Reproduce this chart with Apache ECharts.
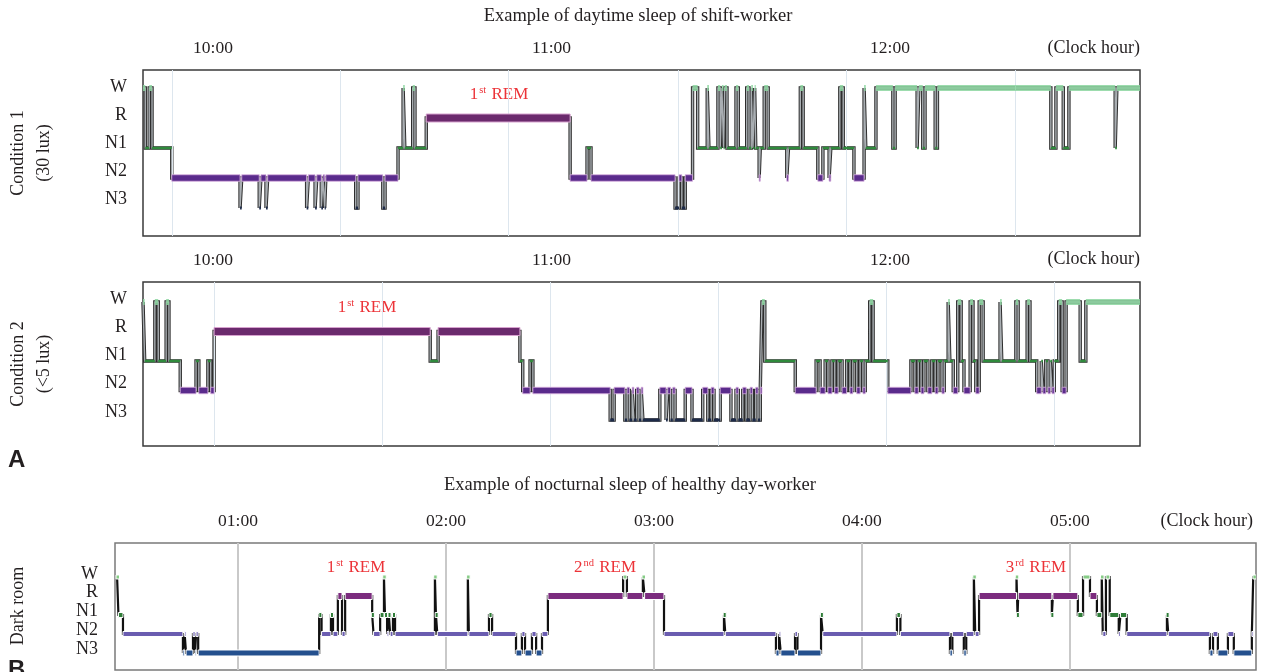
<!DOCTYPE html>
<html><head><meta charset="utf-8">
<script src="https://cdn.jsdelivr.net/npm/echarts@6/dist/echarts.min.js"></script>
<style>html,body{margin:0;padding:0;background:#fff}#c{width:1264px;height:672px}</style>
</head><body><div id="c"></div>
<script>
// ---------- DATA ----------
const STAGE_LABELS = ['N3', 'N2', 'N1', 'R', 'W'];
const CLOCK_TOP = [60, 120, 180];            // minutes after 09:00 -> 10:00, 11:00, 12:00
const CLOCK_BOTTOM = [60, 120, 180, 240, 300]; // minutes after 00:00 -> 01:00 ... 05:00

// [minute (after 09:00), stage] — stage holds until next entry
const cond1 = [
 [47.6,'W'],[48.0,'N1'],[48.7,'W'],[49.2,'N1'],[52.7,'N2'],[64.8,'N3'],[65.1,'N2'],[68.2,'N3'],[68.5,'N2'],
 [69.4,'N3'],[69.7,'N2'],[76.6,'N3'],[76.9,'N2'],[78.1,'N3'],[78.4,'N2'],[79.2,'N3'],[79.5,'N2'],[79.8,'N3'],
 [80.0,'N2'],[85.3,'N3'],[85.7,'N2'],[90.1,'N3'],[90.5,'N2'],[92.8,'N1'],[93.7,'W'],[94.0,'N1'],[95.4,'W'],
 [95.8,'N1'],[97.8,'R'],[123.3,'N2'],[126.3,'N1'],[127.0,'N2'],[141.9,'N3'],[142.6,'N2'],[143.1,'N3'],[143.7,'N2'],
 [145.0,'W'],[145.9,'N1'],[147.6,'W'],[147.9,'N1'],[149.5,'W'],[149.9,'N1'],[150.2,'W'],[150.5,'N1'],[150.7,'W'],
 [151.1,'N1'],[152.7,'W'],[153.1,'N1'],[154.6,'W'],[155.0,'N1'],[155.4,'W'],[155.7,'N1'],[156.0,'W'],[156.2,'N1'],
 [156.8,'N2'],[157.0,'N1'],[157.7,'W'],[158.4,'N1'],[161.7,'N2'],[162.0,'N1'],[164.1,'W'],[164.6,'N1'],[167.2,'N2'],
 [168.1,'N1'],[169.2,'N2'],[169.5,'N1'],[171.1,'W'],[171.7,'N1'],[173.6,'N2'],[175.4,'W'],[175.7,'N1'],[177.5,'W'],
 [180.5,'N1'],[180.9,'W'],[184.8,'N1'],[185.1,'W'],[185.8,'N1'],[186.2,'W'],[188.0,'N1'],[188.4,'W'],[208.5,'N1'],
 [209.4,'W'],[210.7,'N1'],[211.7,'W'],[219.9,'N1'],[220.2,'W']
];
const cond1End = 224.3;

const cond2 = [
 [47.6,'W'],[47.9,'N1'],[49.7,'W'],[50.3,'N1'],[51.7,'W'],[52.2,'N1'],[54.2,'N2'],[57.0,'N1'],[57.5,'N2'],
 [59.1,'N1'],[59.6,'N2'],[60.2,'R'],[98.5,'N1'],[99.9,'R'],[114.4,'N1'],[114.9,'N2'],[116.2,'N1'],[116.7,'N2'],
 [130.4,'N3'],[131.1,'N2'],[133.0,'N3'],[133.4,'N2'],[133.8,'N3'],[134.3,'N2'],[134.6,'N3'],[135.1,'N2'],[135.5,'N3'],
 [135.9,'N2'],[136.2,'N3'],[139.2,'N2'],[140.3,'N3'],[140.6,'N2'],[141.1,'N3'],[141.5,'N2'],[141.9,'N3'],[143.7,'N2'],
 [144.9,'N3'],[146.8,'N2'],[147.7,'N3'],[148.3,'N2'],[148.8,'N3'],[149.9,'N2'],[151.8,'N3'],[152.7,'N2'],[153.1,'N3'],
 [153.9,'N2'],[154.5,'N3'],[155.2,'N2'],[155.6,'N3'],[156.2,'N2'],[156.6,'N3'],[157.0,'N2'],[157.3,'W'],[157.8,'N1'],
 [163.2,'N2'],[166.9,'N1'],[167.6,'N2'],[168.5,'N1'],[169.0,'N2'],[169.7,'N1'],[170.2,'N2'],[170.8,'N1'],[171.5,'N2'],
 [172.3,'N1'],[172.9,'N2'],[173.4,'N1'],[174.1,'N2'],[174.7,'N1'],[175.2,'N2'],[175.6,'N1'],[176.4,'W'],[177.0,'N1'],
 [179.6,'N2'],[183.7,'N1'],[184.4,'N2'],[185.0,'N1'],[185.5,'N2'],[186.0,'N1'],[186.7,'N2'],[187.4,'N1'],[188.0,'N2'],
 [188.5,'N1'],[189.2,'N2'],[189.6,'N1'],[190.3,'W'],[190.6,'N1'],[191.2,'N2'],[192.0,'W'],[192.6,'N1'],[193.1,'N2'],
 [194.2,'W'],[194.7,'N1'],[195.2,'N2'],[195.8,'W'],[196.5,'N1'],[199.5,'W'],[199.8,'N1'],[202.3,'W'],[202.7,'N1'],
 [204.3,'W'],[204.8,'N1'],[206.0,'N2'],[206.8,'N1'],[207.1,'N2'],[207.6,'N1'],[208.0,'N2'],[208.4,'N1'],[208.7,'N2'],
 [209.1,'N1'],[209.9,'W'],[210.5,'N2'],[211.2,'W'],[213.7,'N1'],[214.7,'W']
];
const cond2End = 224.3;

// [minute (after 00:00), stage]
const dark = [
 [25.1,'W'],[25.5,'N1'],[26.8,'N2'],[44.1,'N3'],[44.6,'N2'],[45.0,'N3'],[47.0,'N2'],[47.6,'N3'],[47.9,'N2'],[48.5,'N3'],
 [83.4,'N1'],[84.1,'N2'],[86.8,'N1'],[87.4,'N2'],[88.8,'R'],[90.0,'N2'],[90.9,'R'],[98.7,'N1'],[99.1,'N2'],
 [101.0,'N1'],[102.1,'W'],[102.4,'N1'],[103.0,'N2'],[103.5,'N1'],[103.9,'N2'],[104.7,'N1'],[105.3,'N2'],
 [116.8,'W'],[117.1,'N1'],[117.5,'N2'],[126.3,'W'],[126.6,'N2'],[132.4,'N1'],[133.3,'N2'],[140.2,'N3'],[141.9,'N2'],
 [142.8,'N3'],[144.8,'N2'],[146.0,'N3'],[147.7,'N2'],[149.4,'R'],[171.1,'W'],[172.2,'R'],[176.8,'W'],[177.3,'R'],
 [182.9,'N2'],[200.2,'N1'],[200.6,'N2'],[215.2,'N3'],[216.1,'N2'],[216.6,'N3'],[220.7,'N2'],[221.4,'N3'],[228.2,'N1'],
 [228.7,'N2'],[250.1,'N1'],[251.1,'N2'],[265.4,'N3'],[266.1,'N2'],[269.4,'N3'],[270.1,'N2'],[272.3,'W'],[272.7,'N2'],
 [273.8,'R'],[284.6,'W'],[284.9,'N1'],[285.1,'R'],[294.8,'N1'],[295.1,'R'],[302.3,'N1'],[303.8,'W'],[305.8,'R'],
 [307.8,'N1'],[309.2,'W'],[309.5,'N2'],[310.4,'W'],[311.5,'N1'],[314.1,'N2'],[314.6,'N1'],[316.4,'N2'],[328.0,'N1'],
 [328.4,'N2'],[340.4,'N3'],[341.3,'N2'],[342.7,'N3'],[345.6,'N2'],[347.3,'N3'],[352.5,'N2'],[352.9,'W']
];
const darkEnd = 353.7;

// vertical reference lines (minutes)
const cond1Grid = [52.7, 82.5, 112.4, 142.4, 172.2, 202.2];
const cond2Grid = [60.2, 90.0, 119.7, 149.5, 179.3, 209.1];
const darkGrid = [60, 120, 180, 240, 300];

// ---------- BUILD ----------
const LV = { N3: 0, N2: 1, N1: 2, R: 3, W: 4 };
const SERIF = '"Liberation Serif","DejaVu Serif",serif';
const TXT = '#231f20';

function stepLine(seq, end) {
  const d = seq.map(p => [p[0], LV[p[1]]]);
  d.push([end, LV[seq[seq.length - 1][1]]]);
  return d;
}
function segments(seq, end) {
  return seq.map((p, i) => [p[0], i + 1 < seq.length ? seq[i + 1][0] : end, LV[p[1]]]);
}
const pad = n => (n < 10 ? '0' : '') + n;

const topStyle = {
  4: { h: 6, fill: 'rgba(140,214,160,0.85)', minW: 0 },
  3: { h: 8, fill: '#6b2a6d', stroke: '#d7a2cf', lw: 1, minW: 0 },
  2: { h: 2.5, fill: '#2f8a3c', minW: 0 },
  1: { h: 6.5, fill: '#5a2b8c', stroke: '#d9b0e0', lw: 0.8, minW: 0 },
  0: { h: 3, fill: '#1d2a48', minW: 0 }
};
const botStyle = {
  4: { h: 4, fill: '#86cc86', stroke: '#fff', lw: 1, minW: 3.5 },
  3: { h: 7, fill: '#7b2b7e', stroke: '#fff', lw: 1, minW: 0 },
  2: { h: 5, fill: '#2f7d38', stroke: '#fff', lw: 1, minW: 3 },
  1: { h: 5, fill: '#6a5cb0', stroke: '#fff', lw: 1, minW: 0 },
  0: { h: 6, fill: '#24508e', stroke: '#fff', lw: 1, minW: 0 }
};

function barSeries(k, seq, end, styles) {
  return {
    type: 'custom', xAxisIndex: k, yAxisIndex: 2 * k, data: segments(seq, end),
    encode: { x: [0, 1], y: 2 }, z: 5, silent: true, clip: true,
    renderItem(params, api) {
      const lv = api.value(2), st = styles[lv];
      const a = api.coord([api.value(0), lv]), b = api.coord([api.value(1), lv]);
      let x = a[0], w = b[0] - a[0];
      if (w < st.minW) { x -= (st.minW - w) / 2; w = st.minW; }
      return {
        type: 'rect', shape: { x: x, y: a[1] - st.h / 2, width: w, height: st.h },
        style: { fill: st.fill, stroke: st.stroke || null, lineWidth: st.lw || 0 }
      };
    }
  };
}
function lineSeries(k, seq, end, color, width, z) {
  return {
    type: 'line', xAxisIndex: k, yAxisIndex: 2 * k, data: stepLine(seq, end), step: 'end',
    showSymbol: false, symbol: 'none', silent: true, z: z, clip: true,
    lineStyle: { color: color, width: width, join: 'miter' }
  };
}
function gridLines(k, vals, color, width) {
  return {
    type: 'line', xAxisIndex: k, yAxisIndex: 2 * k, data: [], z: 1, silent: true,
    markLine: {
      silent: true, symbol: ['none', 'none'], label: { show: false }, animation: false,
      lineStyle: { color: color, width: width, type: 'solid' },
      data: vals.map(v => ({ xAxis: v }))
    }
  };
}

const grids = [
  { left: 143, top: 70, width: 997, height: 166, borderColor: '#3a3a3a', borderWidth: 1.5 },
  { left: 143, top: 282, width: 997, height: 164, borderColor: '#3a3a3a', borderWidth: 1.5 },
  { left: 115, top: 543, width: 1141, height: 127, borderColor: '#7a7a7a', borderWidth: 1.5 }
].map(g => Object.assign({ show: true, backgroundColor: 'transparent', containLabel: false, outerBoundsMode: 'none' }, g));

function xAx(k, min, max, ticks, baseHour) {
  return {
    gridIndex: k, type: 'value', min: min, max: max, position: 'top',
    axisLine: { show: false }, axisTick: { show: false }, splitLine: { show: false },
    axisLabel: {
      customValues: ticks, margin: 13, fontFamily: SERIF, fontSize: 17.5, color: TXT,
      formatter: v => pad(baseHour + Math.round(v / 60)) + ':00'
    }
  };
}
function yData(k, min, max) {
  return { gridIndex: k, type: 'value', min: min, max: max, show: false };
}
function yLab(k, min, max, margin) {
  return {
    gridIndex: k, type: 'value', min: min, max: max, position: 'left',
    axisLine: { show: false }, axisTick: { show: false }, splitLine: { show: false },
    axisLabel: {
      customValues: [0, 1, 2, 3, 4], margin: margin, fontFamily: SERIF, fontSize: 18, color: TXT,
      formatter: v => STAGE_LABELS[v]
    }
  };
}

const remRich = {
  n: { fontFamily: SERIF, fontSize: 17, color: '#ec3338', fill: '#ec3338', lineHeight: 20, verticalAlign: 'bottom' },
  s: { fontFamily: SERIF, fontSize: 10.5, color: '#ec3338', fill: '#ec3338', lineHeight: 20, verticalAlign: 'top', padding: [2, 1, 0, 1] }
};
function remText(x, y, sup, num) {
  return {
    type: 'text', x: x, y: y, silent: true,
    style: { text: '{n|' + num + '}{s|' + sup + '}{n| REM}', rich: remRich, align: 'center', verticalAlign: 'middle',
             textAlign: 'center', textVerticalAlign: 'middle' }
  };
}
function plainText(x, y, text, opts) {
  return {
    type: 'text', x: x, y: y, silent: true, rotation: (opts && opts.rot) || 0,
    style: Object.assign({ text: text, fontFamily: SERIF, fontSize: 18, fill: TXT, align: 'center', verticalAlign: 'middle',
             textAlign: 'center', textVerticalAlign: 'middle' }, opts && opts.style)
  };
}

const option = {
  animation: false,
  backgroundColor: '#ffffff',
  grid: grids,
  xAxis: [
    xAx(0, 47.6, 224.3, CLOCK_TOP, 9),
    xAx(1, 47.6, 224.3, CLOCK_TOP, 9),
    xAx(2, 24.5, 353.7, CLOCK_BOTTOM, 0)
  ],
  yAxis: [
    yData(0, -0.933, 4.6), yLab(0, -1.321, 4.607, 16),
    yData(1, -0.881, 4.678), yLab(1, -1.204, 4.602, 16),
    yData(2, -0.895, 5.789), yLab(2, -1.12, 5.653, 17)
  ],
  series: [
    gridLines(0, cond1Grid, '#dde6ee', 1),
    lineSeries(0, cond1, cond1End, '#2e2e2e', 3.4, 2),
    lineSeries(0, cond1, cond1End, '#a9aeb2', 1.4, 3),
    barSeries(0, cond1, cond1End, topStyle),

    gridLines(1, cond2Grid, '#dde6ee', 1),
    lineSeries(1, cond2, cond2End, '#2e2e2e', 3.4, 2),
    lineSeries(1, cond2, cond2End, '#a9aeb2', 1.4, 3),
    barSeries(1, cond2, cond2End, topStyle),

    gridLines(2, darkGrid, '#c9c9c9', 2),
    lineSeries(2, dark, darkEnd, '#111111', 2.2, 2),
    barSeries(2, dark, darkEnd, botStyle)
  ],
  graphic: [
    plainText(638, 16, 'Example of daytime sleep of shift-worker', { style: { fontSize: 18.5 } }),
    plainText(630, 485, 'Example of nocturnal sleep of healthy day-worker', { style: { fontSize: 18.5 } }),
    plainText(1140, 48, '(Clock hour)', { style: { align: 'right', textAlign: 'right' } }),
    plainText(1140, 259, '(Clock hour)', { style: { align: 'right', textAlign: 'right' } }),
    plainText(1253, 521, '(Clock hour)', { style: { align: 'right', textAlign: 'right' } }),
    plainText(18, 153, 'Condition 1', { rot: Math.PI / 2 }),
    plainText(44, 153, '(30 lux)', { rot: Math.PI / 2 }),
    plainText(18, 364, 'Condition 2', { rot: Math.PI / 2 }),
    plainText(44, 364, '(<5 lux)', { rot: Math.PI / 2 }),
    plainText(18, 606, 'Dark room', { rot: Math.PI / 2 }),
    plainText(8, 460, 'A', { style: { align: 'left', textAlign: 'left', fontFamily: '"Liberation Sans",Arial,sans-serif', fontWeight: 'bold', fontSize: 24 } }),
    plainText(8, 670, 'B', { style: { align: 'left', textAlign: 'left', fontFamily: '"Liberation Sans",Arial,sans-serif', fontWeight: 'bold', fontSize: 24 } }),
    remText(499, 93, 'st', '1'),
    remText(367, 306, 'st', '1'),
    remText(356, 566, 'st', '1'),
    remText(605, 566, 'nd', '2'),
    remText(1036, 566, 'rd', '3')
  ]
};

const chart = echarts.init(document.getElementById('c'), null, { renderer: 'canvas' });
chart.setOption(option);
</script>
</body></html>
